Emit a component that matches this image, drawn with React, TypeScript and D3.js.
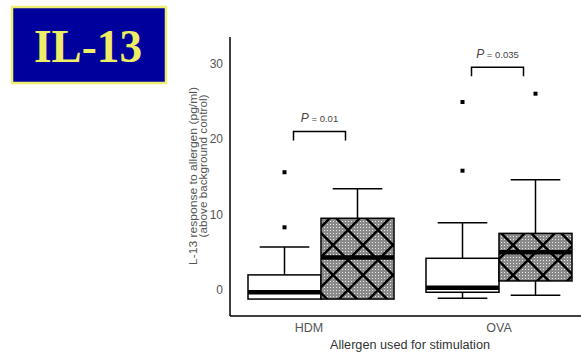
import React, { useEffect, useRef } from 'react';
import * as d3 from 'd3';

const groups = ['HDM', 'OVA'];
const series = ['control', 'allergen'];
// box statistics per group, [control, allergen]
const q1 = [[-1.2, -1.2], [-0.3, 1.2]];
const median = [[-0.3, 4.3], [0.3, 5.0]];
const q3 = [[2.0, 9.5], [4.2, 7.5]];
const whiskerLow = [[-1.2, -1.2], [-1.1, -0.7]];
const whiskerHigh = [[5.7, 13.4], [8.9, 14.6]];
const outliers = [[[8.3, 15.6], []], [[15.8, 24.9], [26.0]]];
const pLabels = ['P = 0.01', 'P = 0.035'];
const pBracketY = [21.0, 29.5];
const yTicks = [0, 10, 20, 30];

const W = 581;
const H = 353;

export default function App() {
  const ref = useRef<SVGSVGElement>(null);

  useEffect(() => {
    const svg = d3.select(ref.current);
    svg.selectAll('*').remove();

    const y = d3.scaleLinear().domain([0, 30]).range([290, 63.5]);
    const x = d3.scaleBand().domain(groups).range([232, 588]).padding(0);
    const xs = d3.scaleBand().domain(series).range([16, 162]).padding(0);

    // hatch pattern
    const defs = svg.append('defs');
    const dots = defs.append('pattern').attr('id', 'dots')
      .attr('width', 3).attr('height', 3).attr('patternUnits', 'userSpaceOnUse');
    dots.append('rect').attr('width', 3).attr('height', 3).attr('fill', '#8a8a8a');
    dots.append('rect').attr('width', 1).attr('height', 1).attr('fill', '#e8e8e8');
    const hatch = defs.append('pattern').attr('id', 'hatch')
      .attr('width', 30).attr('height', 30).attr('patternUnits', 'userSpaceOnUse')
      .attr('x', 3).attr('y', 5);
    hatch.append('rect').attr('width', 30).attr('height', 30).attr('fill', 'url(#dots)');
    hatch.append('path').attr('d', 'M0,0L30,30M30,0L0,30')
      .attr('stroke', '#000').attr('stroke-width', 2.5);

    // title box
    svg.append('rect').attr('x', 12).attr('y', 7).attr('width', 154).attr('height', 76)
      .attr('fill', '#00009c').attr('stroke', '#eeee70').attr('stroke-width', 2.5);
    svg.append('text').attr('x', 88).attr('y', 62).attr('text-anchor', 'middle')
      .attr('font-family', 'Liberation Serif').attr('font-weight', 'bold')
      .attr('font-size', 46).attr('fill', '#eeee66')
      .attr('textLength', 108).attr('lengthAdjust', 'spacingAndGlyphs').text('IL-13');

    // axes
    svg.append('line').attr('x1', 230).attr('x2', 230).attr('y1', 37).attr('y2', 316)
      .attr('stroke', '#000').attr('stroke-width', 1.5);
    svg.append('line').attr('x1', 230).attr('x2', 581).attr('y1', 316).attr('y2', 316)
      .attr('stroke', '#000').attr('stroke-width', 1.5);

    const ya = svg.append('g').attr('transform', 'translate(230,0)')
      .call(d3.axisLeft(y).tickValues(yTicks).tickSize(0).tickPadding(7));
    ya.select('.domain').remove();
    ya.selectAll('text').attr('font-family', 'Liberation Sans').attr('font-size', 12).attr('fill', '#555');

    svg.append('text').attr('transform', 'translate(197,176) rotate(-90)')
      .attr('text-anchor', 'middle').attr('font-family', 'Liberation Sans')
      .attr('font-size', 11).attr('fill', '#555')
      .attr('textLength', 178).attr('lengthAdjust', 'spacingAndGlyphs')
      .text('L-13 response to allergen (pg/ml)');
    svg.append('text').attr('transform', 'translate(207,166) rotate(-90)')
      .attr('text-anchor', 'middle').attr('font-family', 'Liberation Sans')
      .attr('font-size', 11).attr('fill', '#555')
      .attr('textLength', 143).attr('lengthAdjust', 'spacingAndGlyphs')
      .text('(above background control)');

    const labelShift = [-12, 0];

    groups.forEach((g, gi) => {
      const gx = x(g)!;
      svg.append('text').attr('x', gx + x.bandwidth() / 2 + labelShift[gi]).attr('y', 332)
        .attr('text-anchor', 'middle').attr('font-family', 'Liberation Sans')
        .attr('font-size', 12.5).attr('fill', '#555').text(g);

      series.forEach((s, si) => {
        const bx = gx + xs(s)!;
        const bw = xs.bandwidth();
        const cx = bx + bw / 2;
        const capW = bw * 0.68;
        // whiskers
        svg.append('line').attr('x1', cx).attr('x2', cx)
          .attr('y1', y(whiskerHigh[gi][si])).attr('y2', y(q3[gi][si]))
          .attr('stroke', '#000').attr('stroke-width', 1.5);
        svg.append('line').attr('x1', cx - capW / 2).attr('x2', cx + capW / 2)
          .attr('y1', y(whiskerHigh[gi][si])).attr('y2', y(whiskerHigh[gi][si]))
          .attr('stroke', '#000').attr('stroke-width', 1.5);
        if (whiskerLow[gi][si] < q1[gi][si]) {
          svg.append('line').attr('x1', cx).attr('x2', cx)
            .attr('y1', y(q1[gi][si])).attr('y2', y(whiskerLow[gi][si]))
            .attr('stroke', '#000').attr('stroke-width', 1.5);
          svg.append('line').attr('x1', cx - capW / 2).attr('x2', cx + capW / 2)
            .attr('y1', y(whiskerLow[gi][si])).attr('y2', y(whiskerLow[gi][si]))
            .attr('stroke', '#000').attr('stroke-width', 1.5);
        }
        // box
        svg.append('rect').attr('x', bx).attr('width', bw)
          .attr('y', y(q3[gi][si])).attr('height', y(q1[gi][si]) - y(q3[gi][si]))
          .attr('fill', si === 0 ? '#fff' : 'url(#hatch)')
          .attr('stroke', '#000').attr('stroke-width', 1.5);
        svg.append('line').attr('x1', bx).attr('x2', bx + bw)
          .attr('y1', y(median[gi][si])).attr('y2', y(median[gi][si]))
          .attr('stroke', '#000').attr('stroke-width', 4.5);
        // outliers
        outliers[gi][si].forEach(v => {
          svg.append('rect').attr('x', cx - 2).attr('y', y(v) - 2)
            .attr('width', 4).attr('height', 4).attr('fill', '#000');
        });
      });

      // significance bracket
      const x1 = gx + xs('control')! + xs.bandwidth() / 2 + 9;
      const x2 = gx + xs('allergen')! + xs.bandwidth() / 2 - 12;
      const by = y(pBracketY[gi]);
      svg.append('path').attr('d', `M${x1},${by + 9}V${by}H${x2}V${by + 9}`)
        .attr('fill', 'none').attr('stroke', '#000').attr('stroke-width', 1.5);
      const t = svg.append('text').attr('x', (x1 + x2) / 2).attr('y', by - 9)
        .attr('text-anchor', 'middle').attr('font-family', 'Liberation Sans')
        .attr('font-size', 9.5).attr('fill', '#444');
      const parts = pLabels[gi].split(' = ');
      t.append('tspan').attr('font-style', 'italic').attr('font-size', 12).text(parts[0]);
      t.append('tspan').text(' = ' + parts[1]);
    });

    svg.append('text').attr('x', 410).attr('y', 349).attr('text-anchor', 'middle')
      .attr('font-family', 'Liberation Sans').attr('font-size', 12).attr('fill', '#333')
      .attr('textLength', 160).attr('lengthAdjust', 'spacingAndGlyphs')
      .text('Allergen used for stimulation');
  }, []);

  return (
    <svg ref={ref} width={W} height={H}
      style={{ position: 'absolute', left: 0, top: 0, background: '#fff' }} />
  );
}
